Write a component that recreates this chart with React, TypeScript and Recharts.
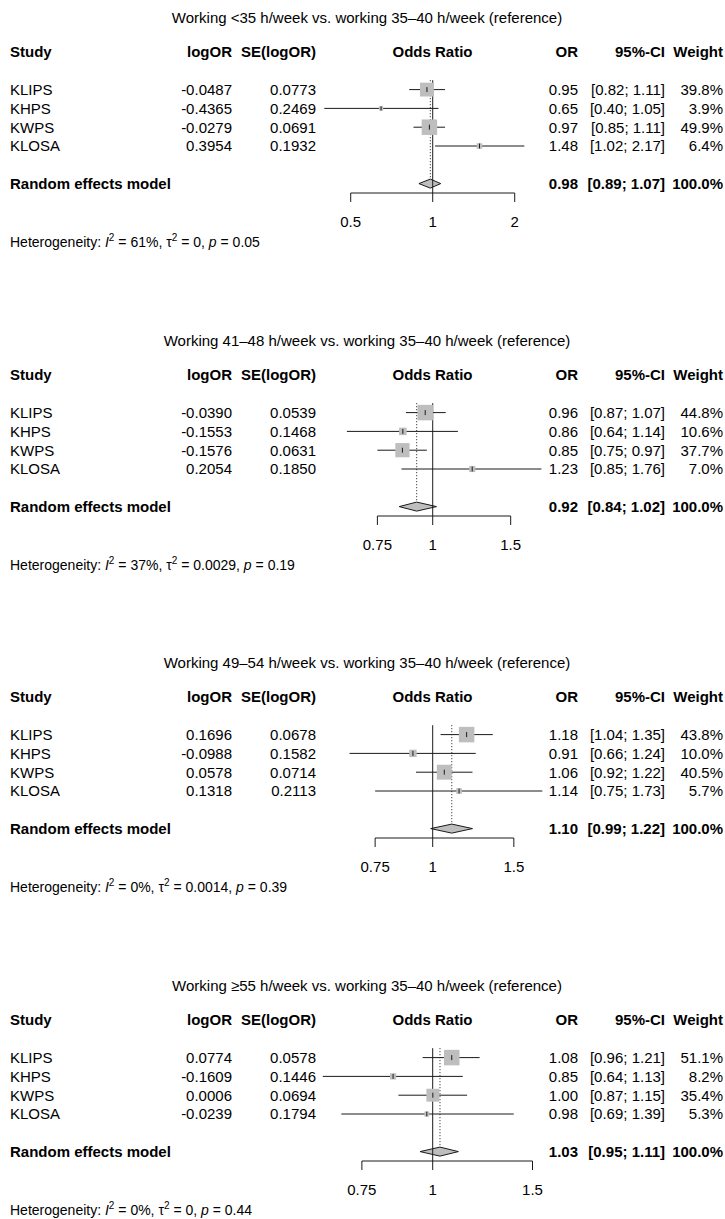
import React from 'react';
import { ComposedChart, Scatter, XAxis, YAxis, ErrorBar, ReferenceLine, ReferenceArea } from 'recharts';

const studies = ['KLIPS', 'KHPS', 'KWPS', 'KLOSA'];

const titles = [
  'Working <35 h/week vs. working 35–40 h/week (reference)',
  'Working 41–48 h/week vs. working 35–40 h/week (reference)',
  'Working 49–54 h/week vs. working 35–40 h/week (reference)',
  'Working ≥55 h/week vs. working 35–40 h/week (reference)',
];

const logORs = [
  [-0.0487, -0.4365, -0.0279, 0.3954],
  [-0.039, -0.1553, -0.1576, 0.2054],
  [0.1696, -0.0988, 0.0578, 0.1318],
  [0.0774, -0.1609, 0.0006, -0.0239],
];
const seLogORs = [
  [0.0773, 0.2469, 0.0691, 0.1932],
  [0.0539, 0.1468, 0.0631, 0.185],
  [0.0678, 0.1582, 0.0714, 0.2113],
  [0.0578, 0.1446, 0.0694, 0.1794],
];
const oddsRatios = [
  [0.95, 0.65, 0.97, 1.48],
  [0.96, 0.86, 0.85, 1.23],
  [1.18, 0.91, 1.06, 1.14],
  [1.08, 0.85, 1.0, 0.98],
];
const ciLower = [
  [0.82, 0.4, 0.85, 1.02],
  [0.87, 0.64, 0.75, 0.85],
  [1.04, 0.66, 0.92, 0.75],
  [0.96, 0.64, 0.87, 0.69],
];
const ciUpper = [
  [1.11, 1.05, 1.11, 2.17],
  [1.07, 1.14, 0.97, 1.76],
  [1.35, 1.24, 1.22, 1.73],
  [1.21, 1.13, 1.15, 1.39],
];
const weights = [
  [39.8, 3.9, 49.9, 6.4],
  [44.8, 10.6, 37.7, 7.0],
  [43.8, 10.0, 40.5, 5.7],
  [51.1, 8.2, 35.4, 5.3],
];
const pooledOR = [0.98, 0.92, 1.1, 1.03];
const pooledLower = [0.89, 0.84, 0.99, 0.95];
const pooledUpper = [1.07, 1.02, 1.22, 1.11];
const i2 = [61, 37, 0, 0];
const tau2 = ['0', '0.0029', '0.0014', '0'];
const pValues = ['0.05', '0.19', '0.39', '0.44'];

const tickValues = [[0.5, 1, 2], [0.75, 1, 1.5], [0.75, 1, 1.5], [0.75, 1, 1.5]];
const tickLabels = [['0.5', '1', '2'], ['0.75', '1', '1.5'], ['0.75', '1', '1.5'], ['0.75', '1', '1.5']];
// odds ratio at the left / right edge of the plot area of each panel
const xLimits = [[0.3257, 2.933], [0.5015, 1.9386], [0.5152, 1.8893], [0.5833, 1.6772]];

const FONT = "'Liberation Sans', Arial, Helvetica, sans-serif";
const PANEL_TOP = [0, 323, 645, 968];
const GREY = '#bebebe';
const INK = '#1a1a1a';

// x position + anchor of each table column
const COLUMNS: { x: number; anchor: 'start' | 'middle' | 'end' }[] = [
  { x: 10, anchor: 'start' },
  { x: 232, anchor: 'end' },
  { x: 316, anchor: 'end' },
  { x: 432.5, anchor: 'middle' },
  { x: 578, anchor: 'end' },
  { x: 665, anchor: 'end' },
  { x: 723, anchor: 'end' },
];
const HEADER = ['Study', 'logOR', 'SE(logOR)', 'Odds Ratio', 'OR', '95%-CI', 'Weight'];

const ln = Math.log;
const ciText = (lo: number, hi: number) => `[${lo.toFixed(2)}; ${hi.toFixed(2)}]`;

const TableRow = (props: any) => {
  const { cy, payload } = props;
  return (
    <g fontFamily={FONT} fontSize={15} fontWeight={payload.bold ? 700 : 400} fill="#000">
      {payload.cells.map((c: string, i: number) =>
        c ? (
          <text key={i} x={COLUMNS[i].x} y={cy + 5.3} textAnchor={COLUMNS[i].anchor}>
            {c}
          </text>
        ) : null
      )}
    </g>
  );
};

const SquareShape = (props: any) => {
  const { cx, cy, payload } = props;
  const s = payload.side;
  return <rect x={cx - s / 2} y={cy - s / 2} width={s} height={s} fill={GREY} />;
};

const EstimateTick = (props: any) => {
  const { cx, cy, payload } = props;
  const h = Math.min(5, payload.side);
  return <line x1={cx} x2={cx} y1={cy - h / 2} y2={cy + h / 2} stroke={INK} strokeWidth={1} />;
};

const ForestPanel = ({ p }: { p: number }) => {
  const wMax = Math.max(...weights[p]);
  const studyRows = studies.map((name, i) => ({
    x: logORs[p][i],
    y: 2 + i,
    side: 15.5 * Math.sqrt(weights[p][i] / wMax),
    err: [logORs[p][i] - ln(ciLower[p][i]), ln(ciUpper[p][i]) - logORs[p][i]],
  }));
  const tableRows = [
    { x: 0, y: 0, bold: true, cells: HEADER },
    ...studies.map((name, i) => ({
      x: 0,
      y: 2 + i,
      bold: false,
      cells: [
        name,
        logORs[p][i].toFixed(4),
        seLogORs[p][i].toFixed(4),
        '',
        oddsRatios[p][i].toFixed(2),
        ciText(ciLower[p][i], ciUpper[p][i]),
        weights[p][i].toFixed(1) + '%',
      ],
    })),
    {
      x: 0,
      y: 7,
      bold: true,
      cells: ['Random effects model', '', '', '', pooledOR[p].toFixed(2), ciText(pooledLower[p], pooledUpper[p]), '100.0%'],
    },
  ];
  const pooled = ln(pooledOR[p]);
  const lo = ln(pooledLower[p]);
  const hi = ln(pooledUpper[p]);
  const frac = (pooled - lo) / (hi - lo);
  const ticks = tickValues[p].map(ln);

  const diamond = (r: any) => {
    const mx = r.x + frac * r.width;
    const my = r.y + r.height / 2;
    return (
      <polygon
        points={`${r.x},${my} ${mx},${r.y} ${r.x + r.width},${my} ${mx},${r.y + r.height}`}
        fill={GREY}
        stroke={INK}
        strokeWidth={1}
      />
    );
  };

  const axisTick = (t: any) => {
    const idx = ticks.findIndex((v) => Math.abs(v - t.payload.value) < 1e-9);
    return (
      <text x={t.x} y={t.y + 23.4} textAnchor="middle" fontFamily={FONT} fontSize={15} fill="#000">
        {tickLabels[p][idx]}
      </text>
    );
  };

  return (
    <div style={{ position: 'absolute', left: 0, top: PANEL_TOP[p], width: 725, height: 323 }}>
      <ComposedChart width={725} height={323} margin={{ top: 52, right: 165, bottom: 100, left: 300 }}>
        <XAxis
          type="number"
          dataKey="x"
          domain={[ln(xLimits[p][0]), ln(xLimits[p][1])]}
          ticks={ticks}
          interval={0}
          axisLine={false}
          tickLine={{ stroke: INK }}
          tickSize={9}
          height={30}
          tick={axisTick}
        />
        <YAxis type="number" dataKey="y" domain={[0, 7.5]} reversed hide />
        <ReferenceLine segment={[{ x: 0, y: 1.5 }, { x: 0, y: 7.5 }]} stroke={INK} ifOverflow="visible" />
        <ReferenceLine
          segment={[{ x: pooled, y: 1.5 }, { x: pooled, y: 6.76 }]}
          stroke={INK}
          strokeDasharray="1 2"
          ifOverflow="visible"
        />
        <ReferenceLine
          segment={[{ x: ticks[0], y: 7.5 }, { x: ticks[ticks.length - 1], y: 7.5 }]}
          stroke={INK}
          ifOverflow="visible"
        />
        <Scatter data={studyRows} shape={SquareShape} isAnimationActive={false} />
        <Scatter data={studyRows} shape={EstimateTick} isAnimationActive={false}>
          <ErrorBar dataKey="err" direction="x" width={0} stroke={INK} strokeWidth={1} isAnimationActive={false} />
        </Scatter>
        <ReferenceArea x1={lo} x2={hi} y1={6.76} y2={7.24} ifOverflow="visible" shape={diamond} />
        <Scatter data={tableRows} shape={TableRow} isAnimationActive={false} />
      </ComposedChart>
      <div
        style={{
          position: 'absolute',
          left: 0,
          top: 9,
          width: 734,
          textAlign: 'center',
          font: `15px ${FONT}`,
          lineHeight: '18px',
          whiteSpace: 'nowrap',
        }}
      >
        {titles[p]}
      </div>
      <div
        style={{
          position: 'absolute',
          left: 10,
          top: 233,
          font: `14px ${FONT}`,
          lineHeight: '18px',
          whiteSpace: 'nowrap',
        }}
      >
        Heterogeneity: <i>I</i>
        <sup style={{ fontSize: 10, lineHeight: 0, verticalAlign: 6 }}>2</sup> = {i2[p]}%, τ
        <sup style={{ fontSize: 10, lineHeight: 0, verticalAlign: 6 }}>2</sup> = {tau2[p]}, <i>p</i> = {pValues[p]}
      </div>
    </div>
  );
};

export default function App() {
  return (
    <div
      style={{
        position: 'absolute',
        left: 0,
        top: 0,
        width: 725,
        height: 1219,
        overflow: 'hidden',
        background: '#fff',
        color: '#000',
      }}
    >
      {[0, 1, 2, 3].map((p) => (
        <ForestPanel key={p} p={p} />
      ))}
    </div>
  );
}
